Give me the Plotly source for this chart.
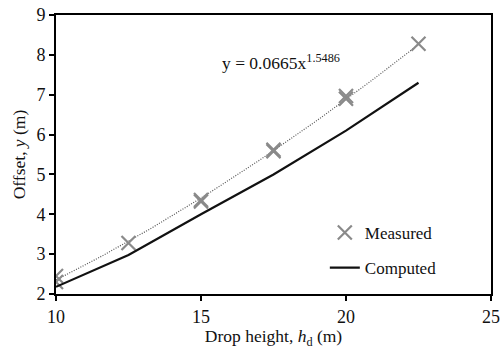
import numpy as np
import plotly.graph_objects as go

# Measured data
meas_x = [10, 10, 12.5, 15, 15, 17.5, 17.5, 20, 20, 22.5]
meas_y = [2.45, 2.3, 3.28, 4.32, 4.36, 5.58, 5.62, 6.9, 6.97, 8.28]

# Computed data
comp_x = [10, 12.5, 15, 17.5, 20, 22.5]
comp_y = [2.18, 2.98, 4.0, 5.0, 6.1, 7.3]

# Power-law trendline shown on chart: y = a * x^b
fit_a = 0.0665
fit_b = 1.5486
fit_x = np.linspace(10, 22.5, 60)
fit_y = fit_a * fit_x ** fit_b

x_ticks = [10, 15, 20, 25]
y_ticks = [2, 3, 4, 5, 6, 7, 8, 9]

FONT = "Liberation Serif"

fig = go.Figure()
fig.add_trace(go.Scatter(x=fit_x, y=fit_y, mode="lines",
                         line=dict(color="#555555", width=1.2, dash="1px,1.5px"),
                         showlegend=False, hoverinfo="skip"))
fig.add_trace(go.Scatter(x=meas_x, y=meas_y, mode="markers", name="Measured",
                         legendgroup="a",
                         marker=dict(symbol="x-thin-open", size=14,
                                     line=dict(color="#8a8a8a", width=2.2),
                                     color="#8a8a8a")))
fig.add_trace(go.Scatter(x=comp_x, y=comp_y, mode="lines", name="Computed",
                         legendgroup="b",
                         line=dict(color="#111111", width=2.2)))

fig.add_annotation(text="y = 0.0665x<sup>1.5486</sup>", x=(220 - 56) / 435, y=(294 - 62) / 279,
                   xref="paper", yref="paper", xanchor="left", yanchor="middle",
                   showarrow=False, font=dict(family=FONT, size=17.5, color="#111111"))

fig.update_layout(
    width=502, height=349,
    margin=dict(l=56, r=11, t=15, b=55, autoexpand=False),
    paper_bgcolor="white", plot_bgcolor="white",
    font=dict(family=FONT, size=18, color="#111111"),
    legend=dict(x=0.618, y=0.283, xanchor="left", yanchor="top",
                bgcolor="rgba(0,0,0,0)", font=dict(family=FONT, size=17),
                itemwidth=30, tracegroupgap=10, traceorder="grouped"),
    xaxis=dict(range=[10, 25], tickvals=x_ticks, showgrid=False, zeroline=False,
               showline=True, linecolor="black", linewidth=2, mirror=True,
               ticks="outside", ticklen=5, tickwidth=2, tickcolor="black",
               tickfont=dict(family=FONT, size=18), automargin=False,
               title=dict(text="Drop height, <i>h</i><sub>d</sub> (m)", standoff=4,
                          font=dict(family=FONT, size=17.5))),
    yaxis=dict(range=[2, 9], tickvals=y_ticks, showgrid=False, zeroline=False,
               showline=True, linecolor="black", linewidth=2, mirror=True,
               ticks="outside", ticklen=5, tickwidth=2, tickcolor="black",
               tickfont=dict(family=FONT, size=18), automargin=False,
               title=dict(text="Offset, <i>y</i> (m)", standoff=6,
                          font=dict(family=FONT, size=17.5))),
)

fig.write_html("out.html")
